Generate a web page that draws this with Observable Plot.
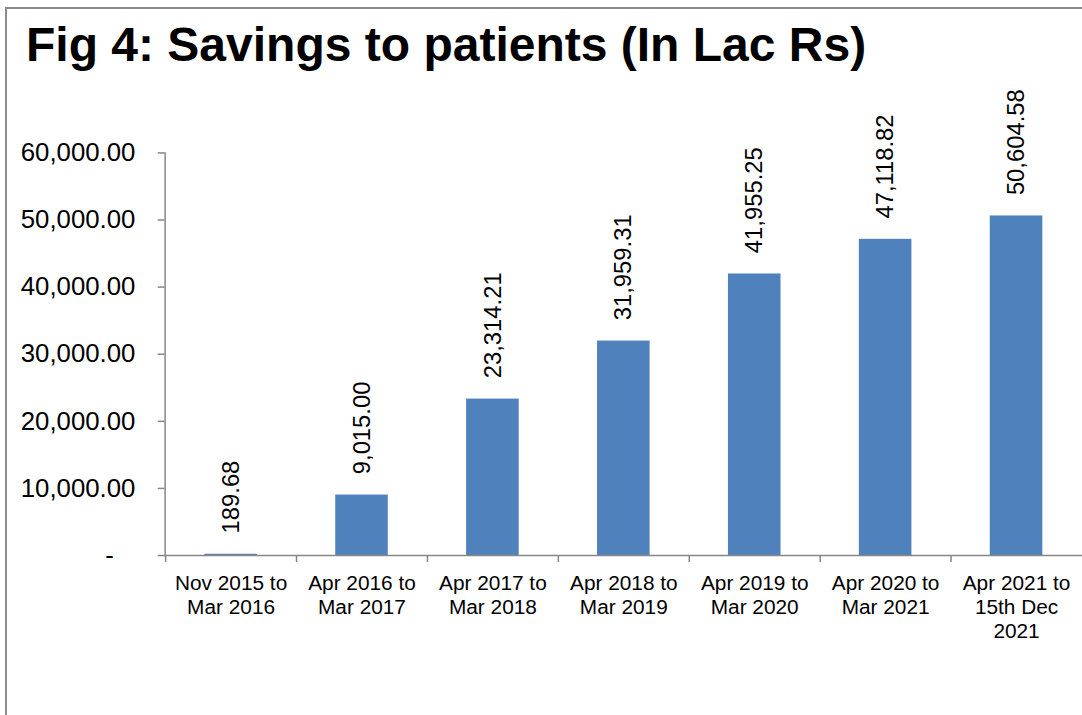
<!DOCTYPE html>
<html>
<head>
<meta charset="utf-8">
<script src="https://cdn.jsdelivr.net/npm/d3@7"></script>
<script src="https://cdn.jsdelivr.net/npm/@observablehq/plot@0.6"></script>
<style>
  html, body { margin: 0; padding: 0; background: #fff; overflow: hidden; width: 1082px; height: 715px; }
  #wrap { position: relative; width: 1082px; height: 715px; font-family: "Liberation Sans", Arial, sans-serif; }
  #border { position: absolute; left: 5px; top: 7px; width: 1200px; height: 900px; border: 2px solid #8c8c8c; box-sizing: border-box; }
  #title { position: absolute; left: 26px; top: 21px; font-size: 48px; line-height: 48px; font-weight: bold; color: #000; white-space: nowrap; }
  #chart { position: absolute; left: 0; top: 80px; }
</style>
</head>
<body>
<div id="wrap">
  <div id="border"></div>
  <div id="title">Fig 4: Savings to patients (In Lac Rs)</div>
  <div id="chart"></div>
</div>
<script>
const categories = [
  "Nov 2015 to\nMar 2016",
  "Apr 2016 to\nMar 2017",
  "Apr 2017 to\nMar 2018",
  "Apr 2018 to\nMar 2019",
  "Apr 2019 to\nMar 2020",
  "Apr 2020 to\nMar 2021",
  "Apr 2021 to\n15th Dec\n2021"
];
const savings = [189.68, 9015.00, 23314.21, 31959.31, 41955.25, 47118.82, 50604.58];
const yTicks = [0, 10000, 20000, 30000, 40000, 50000, 60000];

const data = categories.map((c, i) => ({category: c, value: savings[i]}));
const fmt = d3.format(",.2f");
const axisGray = "#868686";

const plot = Plot.plot({
  width: 1091,
  height: 635,
  marginLeft: 166,
  marginRight: 0,
  marginTop: 73,
  marginBottom: 156,
  style: {fontFamily: "'Liberation Sans', Arial, sans-serif", color: "#000", background: "transparent"},
  x: {domain: categories, paddingInner: 0.6, paddingOuter: 0.3},
  y: {domain: [0, 60000]},
  marks: [
    Plot.barY(data, {x: "category", y: "value", fill: "#4F81BD"}),
    Plot.ruleY([0], {stroke: axisGray, strokeWidth: 1.5}),
    Plot.frame({anchor: "left", stroke: axisGray, strokeWidth: 1.5}),
    Plot.ruleX(categories, {x: d => d, y1: 0, y2: 0, insetBottom: -7, dx: -66, stroke: axisGray, strokeWidth: 1.5}),
    Plot.axisY({
      ticks: yTicks,
      tickSize: 7,
      tickPadding: 23,
      fontSize: 26,
      stroke: axisGray,
      strokeWidth: 1.5,
      tickFormat: d => d === 0 ? "-\u00a0\u00a0\u00a0" : fmt(d),
      label: null
    }),
    Plot.axisX({
      tickSize: 0,
      tickPadding: 18,
      fontSize: 21,
      lineHeight: 1.15,
      label: null
    }),
    Plot.text(data, {
      x: "category",
      y: "value",
      text: d => fmt(d.value),
      rotate: -90,
      textAnchor: "start",
      lineAnchor: "middle",
      dy: -21,
      fontSize: 24,
      fill: "#000"
    })
  ]
});
document.getElementById("chart").appendChild(plot);
</script>
</body>
</html>
